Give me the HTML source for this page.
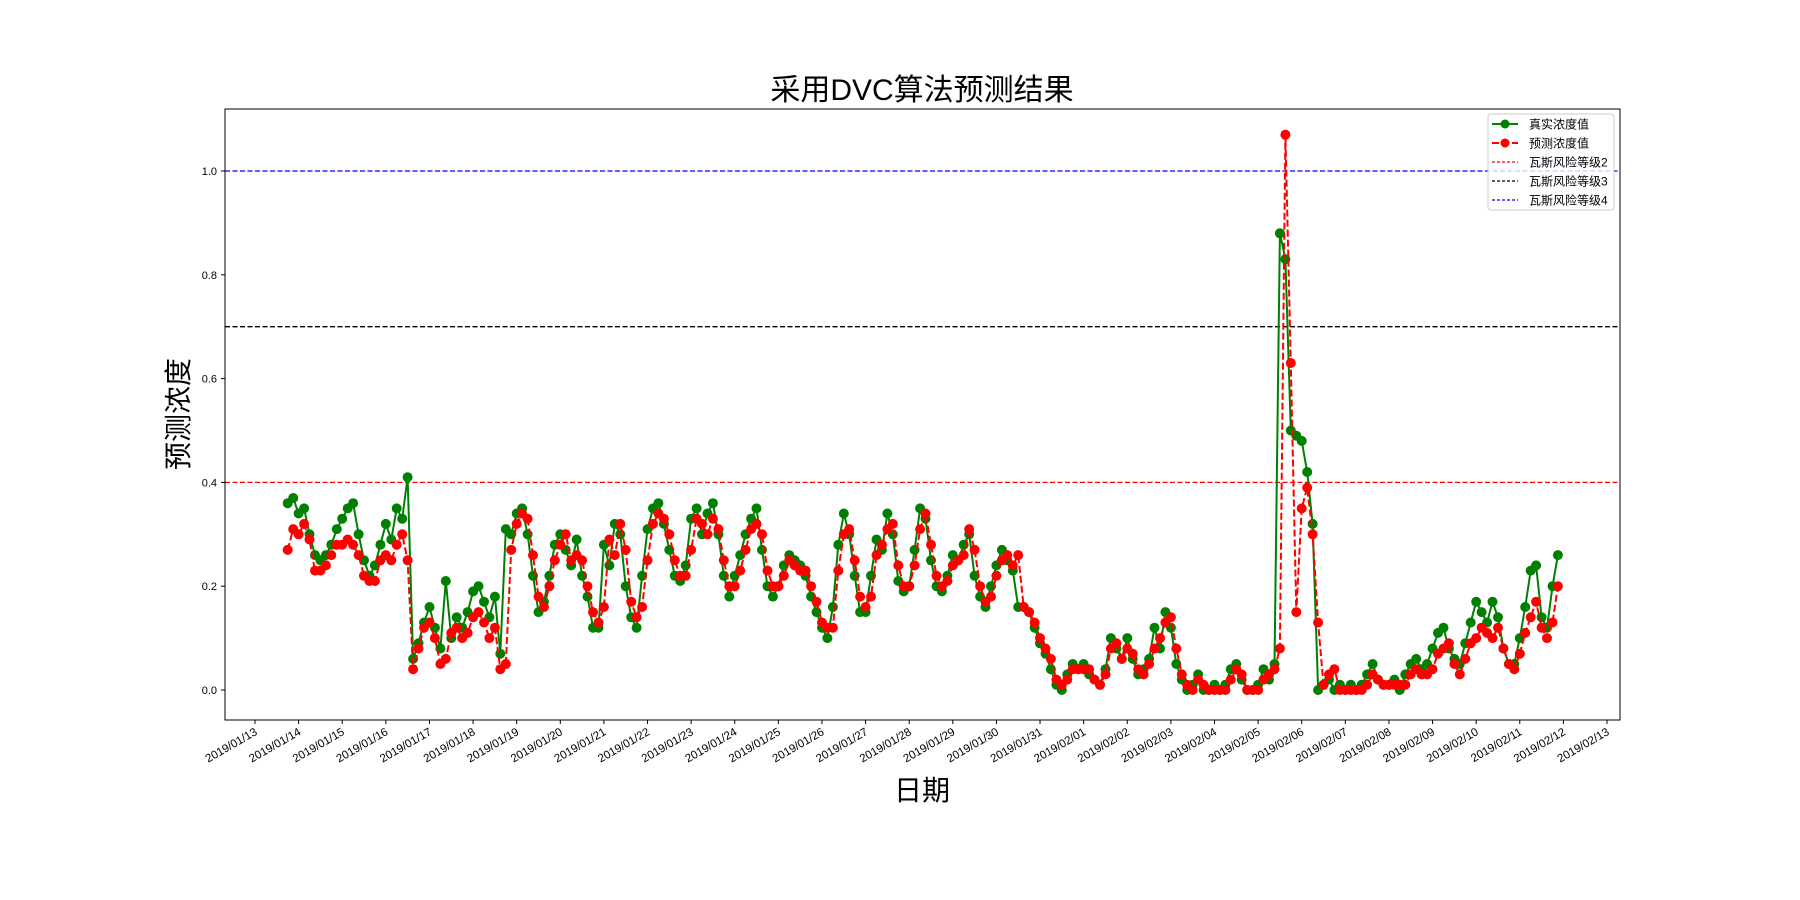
<!DOCTYPE html>
<html><head><meta charset="utf-8">
<style>
html,body{margin:0;padding:0;background:#fff;}
svg{display:block;font-family:"Liberation Sans","Noto Sans CJK SC",sans-serif;}
</style></head>
<body>
<svg id="chart" width="1800" height="900" viewBox="0 0 1800 900" xmlns="http://www.w3.org/2000/svg">
<rect x="0" y="0" width="1800" height="900" fill="#fff"/>
<text x="922" y="100" font-size="30" text-anchor="middle" fill="#000">采用DVC算法预测结果</text>
<text x="922" y="800" font-size="28" text-anchor="middle" fill="#000">日期</text>
<text x="0" y="0" font-size="28" text-anchor="middle" fill="#000" transform="translate(188,414) rotate(-90)">预测浓度</text>
<g id="plot"></g>
</svg>
<script>
// data: 3-hour samples starting 2019/01/13 18:00
const startHour = 18;
const stepHours = 3;
const trueValues = [
0.36,0.37,
0.34,0.35,0.30,0.26,0.25,0.26,0.28,0.31,
0.33,0.35,0.36,0.30,0.25,0.22,0.24,0.28,
0.32,0.29,0.35,0.33,0.41,0.06,0.09,0.13,
0.16,0.12,0.08,0.21,0.10,0.14,0.12,0.15,
0.19,0.20,0.17,0.14,0.18,0.07,0.31,0.30,
0.34,0.35,0.30,0.22,0.15,0.17,0.22,0.28,
0.30,0.27,0.24,0.29,0.22,0.18,0.12,0.12,
0.28,0.24,0.32,0.30,0.20,0.14,0.12,0.22,
0.31,0.35,0.36,0.32,0.27,0.22,0.21,0.24,
0.33,0.35,0.30,0.34,0.36,0.30,0.22,0.18,
0.22,0.26,0.30,0.33,0.35,0.27,0.20,0.18,
0.20,0.24,0.26,0.25,0.24,0.22,0.18,0.15,
0.12,0.10,0.16,0.28,0.34,0.30,0.22,0.15,
0.15,0.22,0.29,0.27,0.34,0.30,0.21,0.19,
0.20,0.27,0.35,0.33,0.25,0.20,0.19,0.22,
0.26,0.25,0.28,0.30,0.22,0.18,0.16,0.20,
0.24,0.27,0.25,0.23,0.16,0.16,0.15,0.12,
0.09,0.07,0.04,0.01,0.00,0.03,0.05,0.04,
0.05,0.03,0.02,0.01,0.04,0.10,0.08,0.06,
0.10,0.06,0.03,0.04,0.06,0.12,0.08,0.15,
0.12,0.05,0.02,0.00,0.01,0.03,0.00,0.00,
0.01,0.00,0.01,0.04,0.05,0.02,0.00,0.00,
0.01,0.04,0.02,0.05,0.88,0.83,0.50,0.49,
0.48,0.42,0.32,0.00,0.01,0.02,0.00,0.01,
0.00,0.01,0.00,0.01,0.03,0.05,0.02,0.01,
0.01,0.02,0.00,0.03,0.05,0.06,0.04,0.05,
0.08,0.11,0.12,0.08,0.06,0.05,0.09,0.13,
0.17,0.15,0.13,0.17,0.14,0.08,0.05,0.05,
0.10,0.16,0.23,0.24,0.14,0.12,0.20,0.26
];
const predValues = [
0.27,0.31,
0.30,0.32,0.29,0.23,0.23,0.24,0.26,0.28,
0.28,0.29,0.28,0.26,0.22,0.21,0.21,0.25,
0.26,0.25,0.28,0.30,0.25,0.04,0.08,0.12,
0.13,0.10,0.05,0.06,0.11,0.12,0.10,0.11,
0.14,0.15,0.13,0.10,0.12,0.04,0.05,0.27,
0.32,0.34,0.33,0.26,0.18,0.16,0.20,0.25,
0.28,0.30,0.25,0.26,0.25,0.20,0.15,0.13,
0.16,0.29,0.26,0.32,0.27,0.17,0.14,0.16,
0.25,0.32,0.34,0.33,0.30,0.25,0.22,0.22,
0.27,0.33,0.32,0.30,0.33,0.31,0.25,0.20,
0.20,0.23,0.27,0.31,0.32,0.30,0.23,0.20,
0.20,0.22,0.25,0.24,0.23,0.23,0.20,0.17,
0.13,0.12,0.12,0.23,0.30,0.31,0.25,0.18,
0.16,0.18,0.26,0.28,0.31,0.32,0.24,0.20,
0.20,0.24,0.31,0.34,0.28,0.22,0.20,0.21,
0.24,0.25,0.26,0.31,0.27,0.20,0.17,0.18,
0.22,0.25,0.26,0.24,0.26,0.16,0.15,0.13,
0.10,0.08,0.06,0.02,0.01,0.02,0.04,0.04,
0.04,0.04,0.02,0.01,0.03,0.08,0.09,0.06,
0.08,0.07,0.04,0.03,0.05,0.08,0.10,0.13,
0.14,0.08,0.03,0.01,0.00,0.02,0.01,0.00,
0.00,0.00,0.00,0.02,0.04,0.03,0.00,0.00,
0.00,0.02,0.03,0.04,0.08,1.07,0.63,0.15,
0.35,0.39,0.30,0.13,0.01,0.03,0.04,0.00,
0.00,0.00,0.00,0.00,0.01,0.03,0.02,0.01,
0.01,0.01,0.01,0.01,0.03,0.04,0.03,0.03,
0.04,0.07,0.08,0.09,0.05,0.03,0.06,0.09,
0.10,0.12,0.11,0.10,0.12,0.08,0.05,0.04,
0.07,0.11,0.14,0.17,0.12,0.10,0.13,0.20
];
const xTickLabels = ["2019/01/13","2019/01/14","2019/01/15","2019/01/16","2019/01/17","2019/01/18","2019/01/19","2019/01/20","2019/01/21","2019/01/22","2019/01/23","2019/01/24","2019/01/25","2019/01/26","2019/01/27","2019/01/28","2019/01/29","2019/01/30","2019/01/31","2019/02/01","2019/02/02","2019/02/03","2019/02/04","2019/02/05","2019/02/06","2019/02/07","2019/02/08","2019/02/09","2019/02/10","2019/02/11","2019/02/12","2019/02/13"];
const yTicks = [0.0,0.2,0.4,0.6,0.8,1.0];
const riskLevels = [0.4,0.7,1.0];
const riskColors = ["#ff0000","#000000","#0000ff"];
const riskNames = ["瓦斯风险等级2","瓦斯风险等级3","瓦斯风险等级4"];

const NS="http://www.w3.org/2000/svg";
const AX={l:225,r:1620,t:109,b:720};
function xScale(day){return 255+day*(1607-255)/31;}
function yScale(v){return 690-v*519;}
function mk(tag,attrs,parent){const e=document.createElementNS(NS,tag);for(const k in attrs)e.setAttribute(k,attrs[k]);parent.appendChild(e);return e;}
const plot=document.getElementById('plot');

// risk lines
riskLevels.forEach((lv,i)=>{
  const l=mk('line',{x1:AX.l,x2:AX.r,y1:yScale(lv),y2:yScale(lv),stroke:riskColors[i],'stroke-width':1.3,'stroke-dasharray':'5,2.5'},plot);
  
  
});

function drawSeries(vals,color,dash,name){
  const g=mk('g',{},plot);
  
  
  const pts=vals.map((v,i)=>[xScale((startHour+i*stepHours)/24),yScale(v)]);
  const p=mk('polyline',{points:pts.map(q=>q[0].toFixed(1)+','+q[1].toFixed(1)).join(' '),fill:'none',stroke:color,'stroke-width':2,'stroke-dasharray':dash},g);
  
  
  pts.forEach(q=>{
    const c=mk('circle',{cx:q[0].toFixed(1),cy:q[1].toFixed(1),r:5,fill:color},g);
    
    
  });
}
drawSeries(trueValues,'#008000','none','true-series');
drawSeries(predValues,'#ff0000','7,3','pred-series');

// axes frame
const fr=mk('rect',{x:AX.l,y:AX.t,width:AX.r-AX.l,height:AX.b-AX.t,fill:'none',stroke:'#000','stroke-width':1},plot);



// y ticks
yTicks.forEach(v=>{
  const y=yScale(v);
  const t=mk('line',{x1:AX.l-4,x2:AX.l,y1:y,y2:y,stroke:'#000'},plot);
  
  
  const tx=mk('text',{x:AX.l-8,y:y+4,'font-size':11,'text-anchor':'end',fill:'#000'},plot);
  tx.textContent=v.toFixed(1);
  
  
});
// x ticks
xTickLabels.forEach((lab,i)=>{
  const x=xScale(i);
  const t=mk('line',{x1:x,x2:x,y1:AX.b,y2:AX.b+4,stroke:'#000'},plot);
  
  
  const tx=mk('text',{x:0,y:0,'font-size':11.5,'text-anchor':'end',fill:'#000',transform:'translate('+(x+3)+','+(AX.b+14)+') rotate(-30)'},plot);
  tx.textContent=lab;
  
  
});

// legend
const lg=mk('g',{},plot);


mk('rect',{x:1488,y:114,width:126,height:96,rx:3,fill:'#fff','fill-opacity':0.8,stroke:'#ccc'},lg);
const legItems=[
 {n:'真实浓度值',c:'#008000',d:'none',m:true},
 {n:'预测浓度值',c:'#ff0000',d:'7,3',m:true},
 {n:riskNames[0],c:riskColors[0],d:'3,2',m:false},
 {n:riskNames[1],c:riskColors[1],d:'3,2',m:false},
 {n:riskNames[2],c:riskColors[2],d:'3,2',m:false}];
legItems.forEach((it,i)=>{
  const y=124+i*19;
  const e=mk('g',{},lg);
  
  
  mk('line',{x1:1492,x2:1518,y1:y,y2:y,stroke:it.c,'stroke-width':it.m?2:1.3,'stroke-dasharray':it.d},e);
  if(it.m)mk('circle',{cx:1505,cy:y,r:4.5,fill:it.c},e);
  const t=mk('text',{x:1529,y:y+4.5,'font-size':12,fill:'#000'},e);
  t.textContent=it.n;
});
</script>
</body></html>
